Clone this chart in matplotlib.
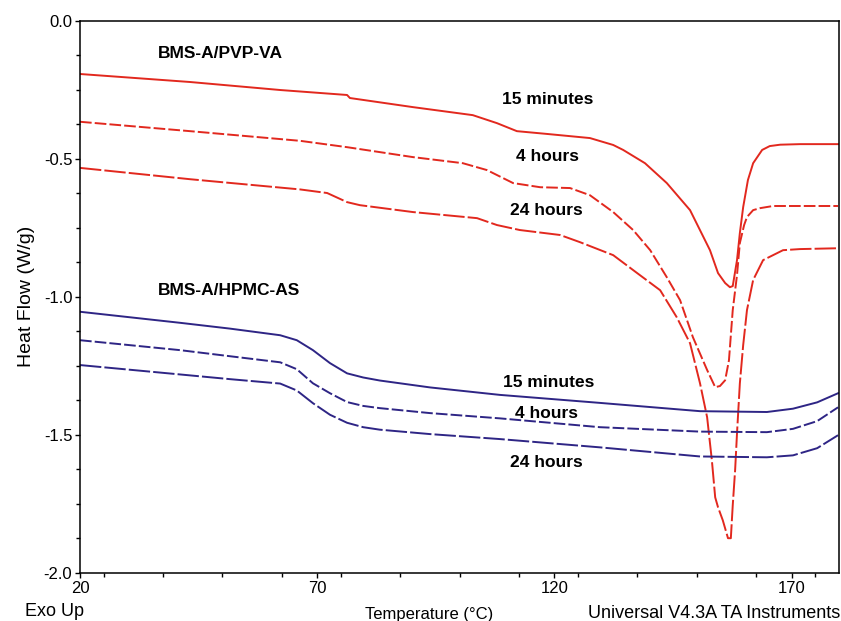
import matplotlib
matplotlib.use('Agg')
import matplotlib.pyplot as plt
import matplotlib.ticker as ticker
import numpy as np

# ---------------- DATA ----------------

# BMS-A/PVP-VA (red)
pvp_15min_T = [20.0, 43.2, 62.2, 76.3, 76.9, 90.2, 102.8, 107.9, 112.1, 118.4, 127.5,
               132.4, 134.5, 139.1, 143.7, 148.6, 152.8, 154.5, 156.0, 157.0, 157.6,
               158.5, 159.1, 159.8, 160.8, 161.9, 163.8, 165.4, 167.6, 171.8, 179.8]
pvp_15min_HF = [-0.193, -0.222, -0.251, -0.269, -0.280, -0.313, -0.342, -0.371, -0.400, -0.410, -0.425,
                -0.450, -0.468, -0.516, -0.588, -0.686, -0.831, -0.914, -0.950, -0.965, -0.961,
                -0.867, -0.769, -0.675, -0.577, -0.516, -0.468, -0.454, -0.449, -0.447, -0.447]

pvp_4h_T = [20.0, 43.2, 66.4, 76.3, 90.2, 100.7, 105.8, 111.3, 117.0, 123.3, 127.5,
            132.4, 136.6, 140.2, 143.7, 146.5, 149.2, 152.2, 153.9, 154.9, 156.0,
            156.8, 157.6, 158.5, 159.1, 160.0, 160.6, 161.9, 163.3, 166.1, 179.8]
pvp_4h_HF = [-0.366, -0.400, -0.435, -0.458, -0.494, -0.516, -0.541, -0.588, -0.603, -0.606, -0.632,
             -0.693, -0.758, -0.831, -0.929, -1.012, -1.146, -1.265, -1.327, -1.323, -1.302,
             -1.230, -1.048, -0.921, -0.805, -0.740, -0.711, -0.686, -0.679, -0.671, -0.671]

pvp_24h_T = [20.0, 43.2, 66.4, 72.1, 76.3, 79.0, 90.2, 103.7, 107.9, 112.7, 121.2, 125.4,
             132.4, 133.8, 138.0, 142.3, 145.8, 148.6, 150.7, 152.2, 153.2, 153.9, 154.5,
             155.5, 156.6, 157.2, 157.6, 158.1, 158.5, 159.1, 159.8, 160.6, 161.9, 164.0,
             168.2, 171.8, 179.8]
pvp_24h_HF = [-0.533, -0.574, -0.611, -0.624, -0.657, -0.668, -0.693, -0.715, -0.740, -0.758, -0.776, -0.802,
              -0.849, -0.867, -0.921, -0.976, -1.074, -1.168, -1.313, -1.436, -1.592, -1.726, -1.762,
              -1.809, -1.874, -1.874, -1.755, -1.628, -1.494, -1.313, -1.175, -1.048, -0.939, -0.867,
              -0.831, -0.827, -0.824]

# BMS-A/HPMC-AS (blue)
hpmc_T = [20.0, 41.1, 51.6, 62.2, 65.7, 69.1, 72.7, 76.3, 79.7, 83.2, 93.8, 108.5,
          129.6, 150.7, 164.8, 170.3, 175.4, 179.8]
hpmc_15min_HF = [-1.054, -1.094, -1.115, -1.139, -1.157, -1.193, -1.240, -1.277, -1.292, -1.303,
                 -1.328, -1.355, -1.384, -1.414, -1.417, -1.405, -1.382, -1.349]
hpmc_4h_HF = [-1.157, -1.193, -1.215, -1.237, -1.262, -1.313, -1.349, -1.381, -1.395, -1.403,
              -1.421, -1.440, -1.472, -1.488, -1.490, -1.478, -1.450, -1.400]
hpmc_24h_HF = [-1.247, -1.281, -1.298, -1.314, -1.339, -1.385, -1.427, -1.456, -1.472, -1.481,
               -1.497, -1.515, -1.545, -1.578, -1.581, -1.574, -1.548, -1.501]

labels_time = ['15 minutes', '4 hours', '24 hours']

# ---------------- STYLE ----------------
RED = '#e2281e'
BLUE = '#2e2585'
LW = 1.4
DASH_4H = (6, 1.6)
DASH_24H = (11, 1.6)

plt.rcParams['font.family'] = ['Liberation Sans', 'DejaVu Sans']

fig = plt.figure(figsize=(8.41, 6.21), dpi=100)
ax = fig.add_axes([80/841, 48/621, 759/841, 552.3/621])

ax.plot(pvp_15min_T, pvp_15min_HF, color=RED, lw=LW)
ax.plot(pvp_4h_T, pvp_4h_HF, color=RED, lw=LW, dashes=DASH_4H)
ax.plot(pvp_24h_T, pvp_24h_HF, color=RED, lw=LW, dashes=DASH_24H)

ax.plot(hpmc_T, hpmc_15min_HF, color=BLUE, lw=LW)
ax.plot(hpmc_T, hpmc_4h_HF, color=BLUE, lw=LW, dashes=DASH_4H)
ax.plot(hpmc_T, hpmc_24h_HF, color=BLUE, lw=LW, dashes=DASH_24H)

ax.set_xlim(20, 180)
ax.set_ylim(-2.0, 0.0)
ax.set_xticks([20, 70, 120, 170])
ax.set_yticks([-2.0, -1.5, -1.0, -0.5, 0.0])
ax.yaxis.set_major_formatter(ticker.FormatStrFormatter('%.1f'))
ax.xaxis.set_minor_locator(ticker.MultipleLocator(12.5))
ax.yaxis.set_minor_locator(ticker.MultipleLocator(0.125))
ax.tick_params(which='both', direction='out', width=1.0, labelsize=12, pad=2)
ax.tick_params(which='major', length=3.5)
ax.tick_params(which='minor', length=3)
for sp in ax.spines.values():
    sp.set_linewidth(1.1)

ax.set_ylabel('Heat Flow (W/g)', fontsize=14, labelpad=6)

# annotations
bold = dict(fontsize=12.5, fontweight='bold', ha='left', va='center')
ax.text(36.4, -0.117, 'BMS-A/PVP-VA', **bold)
ax.text(109.0, -0.287, labels_time[0], **bold)
ax.text(111.9, -0.49, labels_time[1], **bold)
ax.text(110.6, -0.686, labels_time[2], **bold)

ax.text(36.4, -0.976, 'BMS-A/HPMC-AS', **bold)
ax.text(109.2, -1.309, labels_time[0], **bold)
ax.text(111.7, -1.421, labels_time[1], **bold)
ax.text(110.6, -1.599, labels_time[2], **bold)

fig.text(25/841, 1 - 612/621, 'Exo Up', fontsize=13, ha='left', va='center')
fig.text(365/841, 1 - 614/621, 'Temperature (°C)', fontsize=12, ha='left', va='center')
fig.text(840/841, 1 - 613/621, 'Universal V4.3A TA Instruments', fontsize=13, ha='right', va='center')

fig.savefig('out.png', dpi=100)
